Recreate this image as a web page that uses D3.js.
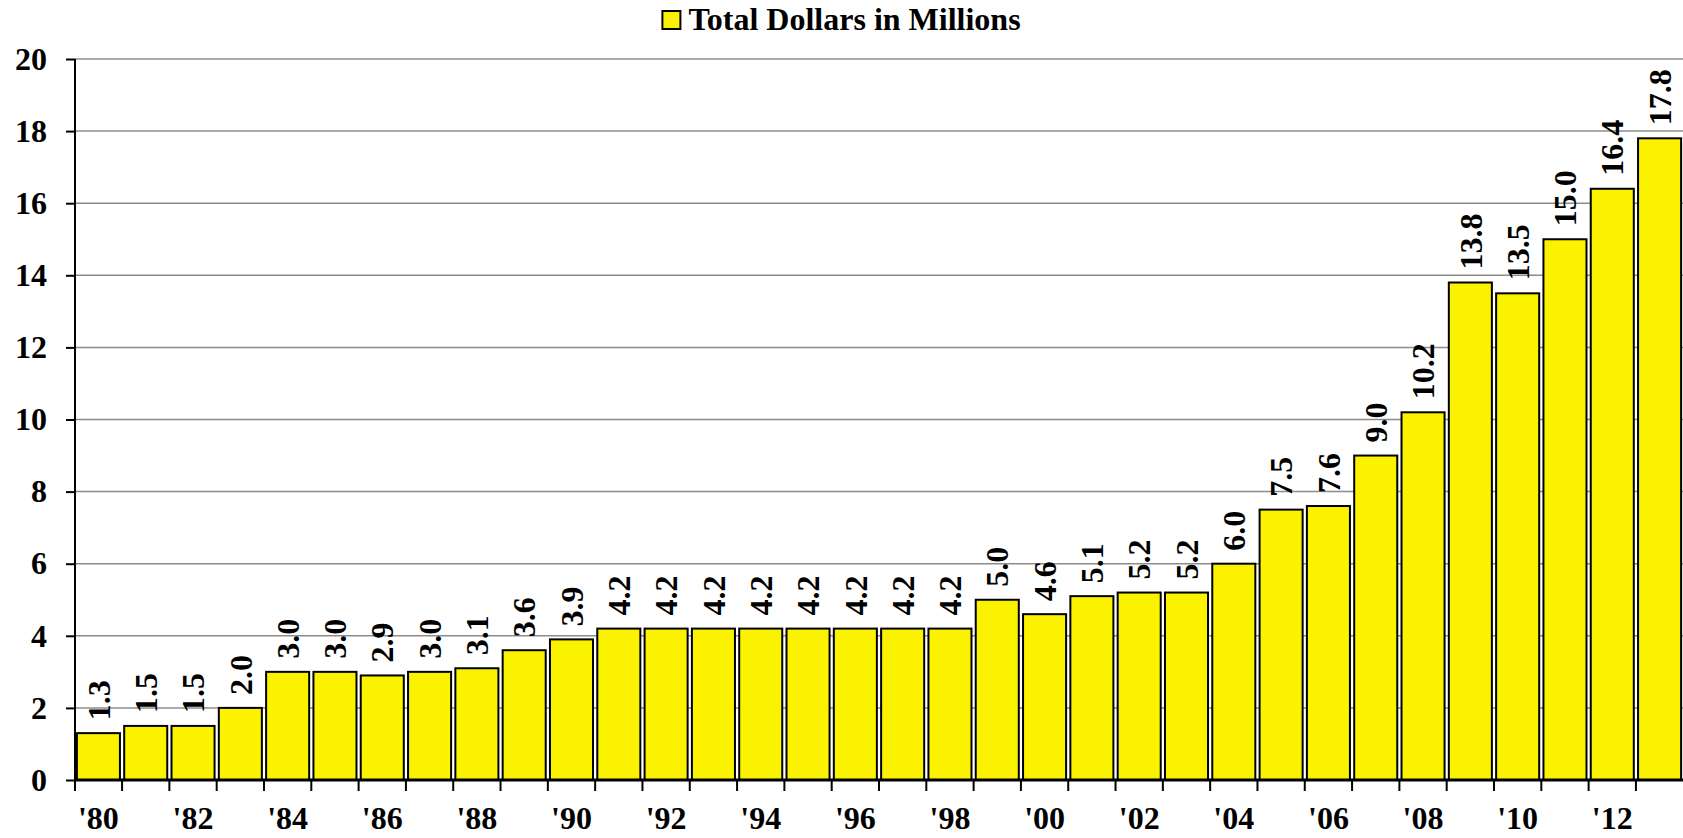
<!DOCTYPE html>
<html lang="en">
<head>
<meta charset="UTF-8">
<title>Total Dollars in Millions</title>
<script src="https://d3js.org/d3.v7.min.js"></script>
<style>
    body { margin: 0; background: #fff; }
    text { font-family: "Liberation Serif", "Times New Roman", serif; font-weight: bold; fill: #000; }
</style>
</head>
<body>
<div id="chart"></div>
<script>
    const years = ["'80", "'81", "'82", "'83", "'84", "'85", "'86", "'87", "'88", "'89",
        "'90", "'91", "'92", "'93", "'94", "'95", "'96", "'97", "'98", "'99",
        "'00", "'01", "'02", "'03", "'04", "'05", "'06", "'07", "'08", "'09",
        "'10", "'11", "'12", "'13"];
    const dollars = [1.3, 1.5, 1.5, 2.0, 3.0, 3.0, 2.9, 3.0, 3.1, 3.6,
        3.9, 4.2, 4.2, 4.2, 4.2, 4.2, 4.2, 4.2, 4.2, 5.0,
        4.6, 5.1, 5.2, 5.2, 6.0, 7.5, 7.6, 9.0, 10.2, 13.8,
        13.5, 15.0, 16.4, 17.8];
    const yTicks = [0, 2, 4, 6, 8, 10, 12, 14, 16, 18, 20];
    const seriesName = "Total Dollars in Millions";

    const W = 1683, H = 838;
    const plotLeft = 75, plotRight = 1683, plotTop = 59, plotBottom = 780;
    const fontSize = 32;

    const data = years.map((y, i) => ({ year: y, value: dollars[i] }));

    const svg = d3.select("#chart").append("svg")
        .attr("width", W)
        .attr("height", H);

    const x = d3.scaleBand()
        .domain(years)
        .range([plotLeft, plotRight])
        .paddingInner(0.09)
        .paddingOuter(0.04);

    const y = d3.scaleLinear()
        .domain([0, 20])
        .range([plotBottom, plotTop]);

    // grid lines
    svg.append("g")
        .selectAll("line")
        .data(yTicks.filter(d => d > 0))
        .join("line")
        .attr("x1", plotLeft)
        .attr("x2", plotRight)
        .attr("y1", d => y(d))
        .attr("y2", d => y(d))
        .attr("stroke", "#8c8c8c")
        .attr("stroke-width", 1.5);

    // bars
    svg.append("g")
        .selectAll("rect")
        .data(data)
        .join("rect")
        .attr("x", d => x(d.year))
        .attr("y", d => y(d.value))
        .attr("width", x.bandwidth())
        .attr("height", d => y(0) - y(d.value))
        .attr("fill", "#fbf200")
        .attr("stroke", "#000")
        .attr("stroke-width", 2);

    // value labels
    svg.append("g")
        .selectAll("text")
        .data(data)
        .join("text")
        .attr("transform", d => `translate(${x(d.year) + x.bandwidth() / 2},${y(d.value) - 13}) rotate(-90)`)
        .attr("dy", "0.35em")
        .attr("text-anchor", "start")
        .style("font-size", fontSize + "px")
        .text(d => d.value.toFixed(1));

    // y axis
    const yAxis = svg.append("g")
        .attr("transform", `translate(${plotLeft},0)`)
        .call(d3.axisLeft(y).tickValues(yTicks).tickSize(9).tickPadding(19).tickFormat(d3.format("d")));
    yAxis.select(".domain").remove();
    yAxis.selectAll(".tick line").attr("stroke", "#000").attr("stroke-width", 2);
    yAxis.selectAll("text").style("font-size", fontSize + "px").attr("font-family", null);
    svg.append("line")
        .attr("x1", plotLeft).attr("x2", plotLeft)
        .attr("y1", plotTop).attr("y2", plotBottom + 11)
        .attr("stroke", "#000").attr("stroke-width", 2);

    // x axis: boundary ticks, labels on even years
    const step = x.step();
    const bounds = years.map(yr => x(yr) - step * x.paddingInner() / 2);
    svg.append("g")
        .selectAll("line")
        .data(bounds)
        .join("line")
        .attr("x1", d => Math.max(d, plotLeft))
        .attr("x2", d => Math.max(d, plotLeft))
        .attr("y1", plotBottom)
        .attr("y2", plotBottom + 11)
        .attr("stroke", "#000")
        .attr("stroke-width", 2);

    const xAxis = svg.append("g")
        .attr("transform", `translate(0,${plotBottom})`)
        .call(d3.axisBottom(x).tickValues(years.filter((d, i) => i % 2 === 0)).tickSize(0).tickPadding(26));
    xAxis.select(".domain").remove();
    xAxis.selectAll("text").style("font-size", fontSize + "px").attr("font-family", null);

    svg.append("line")
        .attr("x1", plotLeft).attr("x2", plotRight)
        .attr("y1", plotBottom).attr("y2", plotBottom)
        .attr("stroke", "#000").attr("stroke-width", 3);

    // legend
    const legend = svg.append("g");
    const legendText = legend.append("text")
        .attr("y", 30)
        .style("font-size", fontSize + "px")
        .text(seriesName);
    const tw = legendText.node().getComputedTextLength();
    const box = 18, gap = 8;
    const lx = (W - (box + gap + tw)) / 2;
    legend.append("rect")
        .attr("x", lx)
        .attr("y", 11)
        .attr("width", box)
        .attr("height", box)
        .attr("fill", "#fbf200")
        .attr("stroke", "#000")
        .attr("stroke-width", 2);
    legendText.attr("x", lx + box + gap);
</script>
</body>
</html>
